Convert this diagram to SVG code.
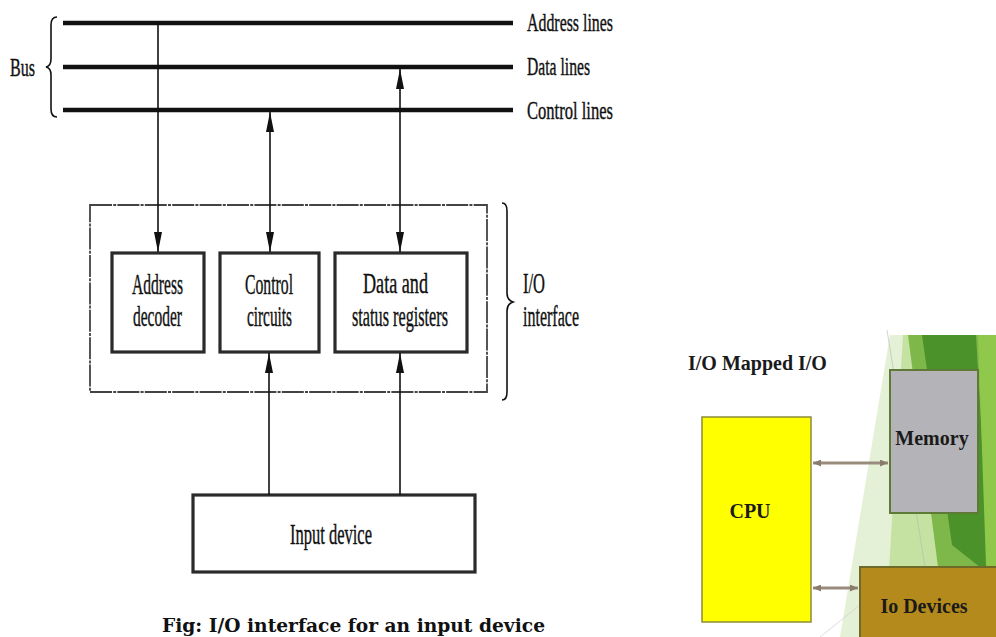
<svg xmlns="http://www.w3.org/2000/svg" width="996" height="637" viewBox="0 0 996 637">
<style>
.lbl{font-family:"Liberation Serif","Times New Roman",serif;fill:#111;stroke:#111;stroke-width:0.4;}
.bus{stroke:#111;stroke-width:4.5;fill:none;}
.conn{stroke:#111;stroke-width:1.6;fill:none;}
.box{fill:#fff;stroke:#2a2a2a;stroke-width:3.2;}
.brace{stroke:#111;stroke-width:1.6;fill:none;}
.rt{font-family:"Liberation Serif","Times New Roman",serif;font-weight:bold;font-size:20px;fill:#1a1a1a;}
.garr{stroke:#9a8c7c;stroke-width:3;fill:none;}
</style>
<defs>
<marker id="ah" markerUnits="userSpaceOnUse" markerWidth="20" markerHeight="8" refX="20" refY="4" orient="auto-start-reverse">
<path d="M0,0 L20,4 L0,8 Z" fill="#111"/>
</marker>
<marker id="gh" markerUnits="userSpaceOnUse" markerWidth="8" markerHeight="7" refX="8" refY="3.5" orient="auto-start-reverse">
<path d="M0,0 L8,3.5 L0,7 Z" fill="#8a7c6c"/>
</marker>
</defs>
<rect width="996" height="637" fill="#fff"/>

<!-- green background facets -->
<g id="background">
<polygon points="890,335 996,335 996,637 840,637" fill="#e4f1d6"/>
<polygon points="903,335 996,335 996,637 885,637" fill="#c6e2a2"/>
<polygon points="908,335 996,335 996,600 938,567" fill="#7fb84a"/>
<polygon points="922,335 976,335 990,575 952,545" fill="#4b922b"/>
<polygon points="978,335 996,335 996,600 986,565" fill="#90c84c"/>
<line x1="887" y1="330" x2="925" y2="567" stroke="#b8b8b0" stroke-width="1" opacity="0.6"/>
<line x1="820" y1="637" x2="860" y2="605" stroke="#c8c8d8" stroke-width="1" opacity="0.6"/>
</g>

<!-- Bus -->
<g id="bus">
<line class="bus" x1="63" y1="23" x2="513" y2="23"/>
<line class="bus" x1="63" y1="67" x2="513" y2="67"/>
<line class="bus" x1="63" y1="110" x2="513" y2="110"/>
<path class="brace" d="M57,17 Q51,17 51,25 L51,59 Q51,66 46,67 Q51,68 51,75 L51,109 Q51,117 57,117"/>
<text class="lbl" x="10" y="76" font-size="25" textLength="25" lengthAdjust="spacingAndGlyphs">Bus</text>
<text class="lbl" x="527" y="31" font-size="25" textLength="86" lengthAdjust="spacingAndGlyphs">Address lines</text>
<text class="lbl" x="527" y="75" font-size="25" textLength="63" lengthAdjust="spacingAndGlyphs">Data lines</text>
<text class="lbl" x="527" y="119" font-size="25" textLength="86" lengthAdjust="spacingAndGlyphs">Control lines</text>
</g>

<!-- I/O interface -->
<g id="io-interface">
<rect x="90" y="205" width="397" height="187" fill="none" stroke="#444" stroke-width="1.8" stroke-dasharray="22 1.2 3 1.2"/>
<path class="brace" d="M502,203 Q507,203 507,211 L507,293 Q507,300 513,302 Q507,304 507,311 L507,392 Q507,400 502,400"/>
<text class="lbl" x="523" y="293" font-size="29" textLength="22" lengthAdjust="spacingAndGlyphs">I/O</text>
<text class="lbl" x="523" y="326" font-size="29" textLength="56" lengthAdjust="spacingAndGlyphs">interface</text>
</g>

<g id="address-decoder">
<rect class="box" x="112" y="253" width="92" height="99"/>
<text class="lbl" x="132" y="294" font-size="29" textLength="51" lengthAdjust="spacingAndGlyphs">Address</text>
<text class="lbl" x="133" y="326" font-size="29" textLength="49" lengthAdjust="spacingAndGlyphs">decoder</text>
</g>

<g id="control-circuits">
<rect class="box" x="220" y="253" width="99" height="99"/>
<text class="lbl" x="245" y="294" font-size="29" textLength="48" lengthAdjust="spacingAndGlyphs">Control</text>
<text class="lbl" x="247" y="326" font-size="29" textLength="45" lengthAdjust="spacingAndGlyphs">circuits</text>
</g>

<g id="data-status-registers">
<rect class="box" x="335" y="253" width="132" height="99"/>
<text class="lbl" x="363" y="293" font-size="29" textLength="65" lengthAdjust="spacingAndGlyphs">Data and</text>
<text class="lbl" x="352" y="326" font-size="29" textLength="96" lengthAdjust="spacingAndGlyphs">status registers</text>
</g>

<g id="input-device">
<rect class="box" x="193" y="495" width="282" height="77"/>
<text class="lbl" x="290" y="544" font-size="29" textLength="82" lengthAdjust="spacingAndGlyphs">Input device</text>
</g>

<g id="connectors">
<line class="conn" x1="158" y1="23" x2="158" y2="252" marker-end="url(#ah)"/>
<line class="conn" x1="270" y1="112" x2="270" y2="252" marker-start="url(#ah)" marker-end="url(#ah)"/>
<line class="conn" x1="400" y1="69" x2="400" y2="252" marker-start="url(#ah)" marker-end="url(#ah)"/>
<line class="conn" x1="269" y1="495" x2="269" y2="353" marker-end="url(#ah)"/>
<line class="conn" x1="400" y1="495" x2="400" y2="353" marker-end="url(#ah)"/>
<line class="garr" x1="813" y1="463" x2="888" y2="463" marker-start="url(#gh)" marker-end="url(#gh)"/>
<line class="garr" x1="813" y1="588" x2="858" y2="588" marker-start="url(#gh)" marker-end="url(#gh)"/>
</g>

<text x="162" y="632" font-family="'DejaVu Serif','Liberation Serif',serif" font-weight="bold" font-size="18" fill="#111" textLength="383" lengthAdjust="spacingAndGlyphs">Fig: I/O interface for an input device</text>

<text class="rt" x="688" y="370">I/O Mapped I/O</text>

<g id="cpu">
<rect x="702" y="417" width="109" height="205" fill="#ffff00" stroke="#8c8c3a" stroke-width="1.5"/>
<text class="rt" x="750" y="518" text-anchor="middle">CPU</text>
</g>

<g id="memory">
<rect x="890" y="370" width="88" height="143" fill="#b4b4b8" stroke="#5f7a36" stroke-width="2"/>
<text class="rt" x="932" y="445" text-anchor="middle">Memory</text>
</g>

<g id="io-devices">
<rect x="860" y="567" width="140" height="75" fill="#b48a1c" stroke="#6f6a28" stroke-width="2"/>
<text class="rt" x="924" y="613" text-anchor="middle">Io Devices</text>
</g>
</svg>
